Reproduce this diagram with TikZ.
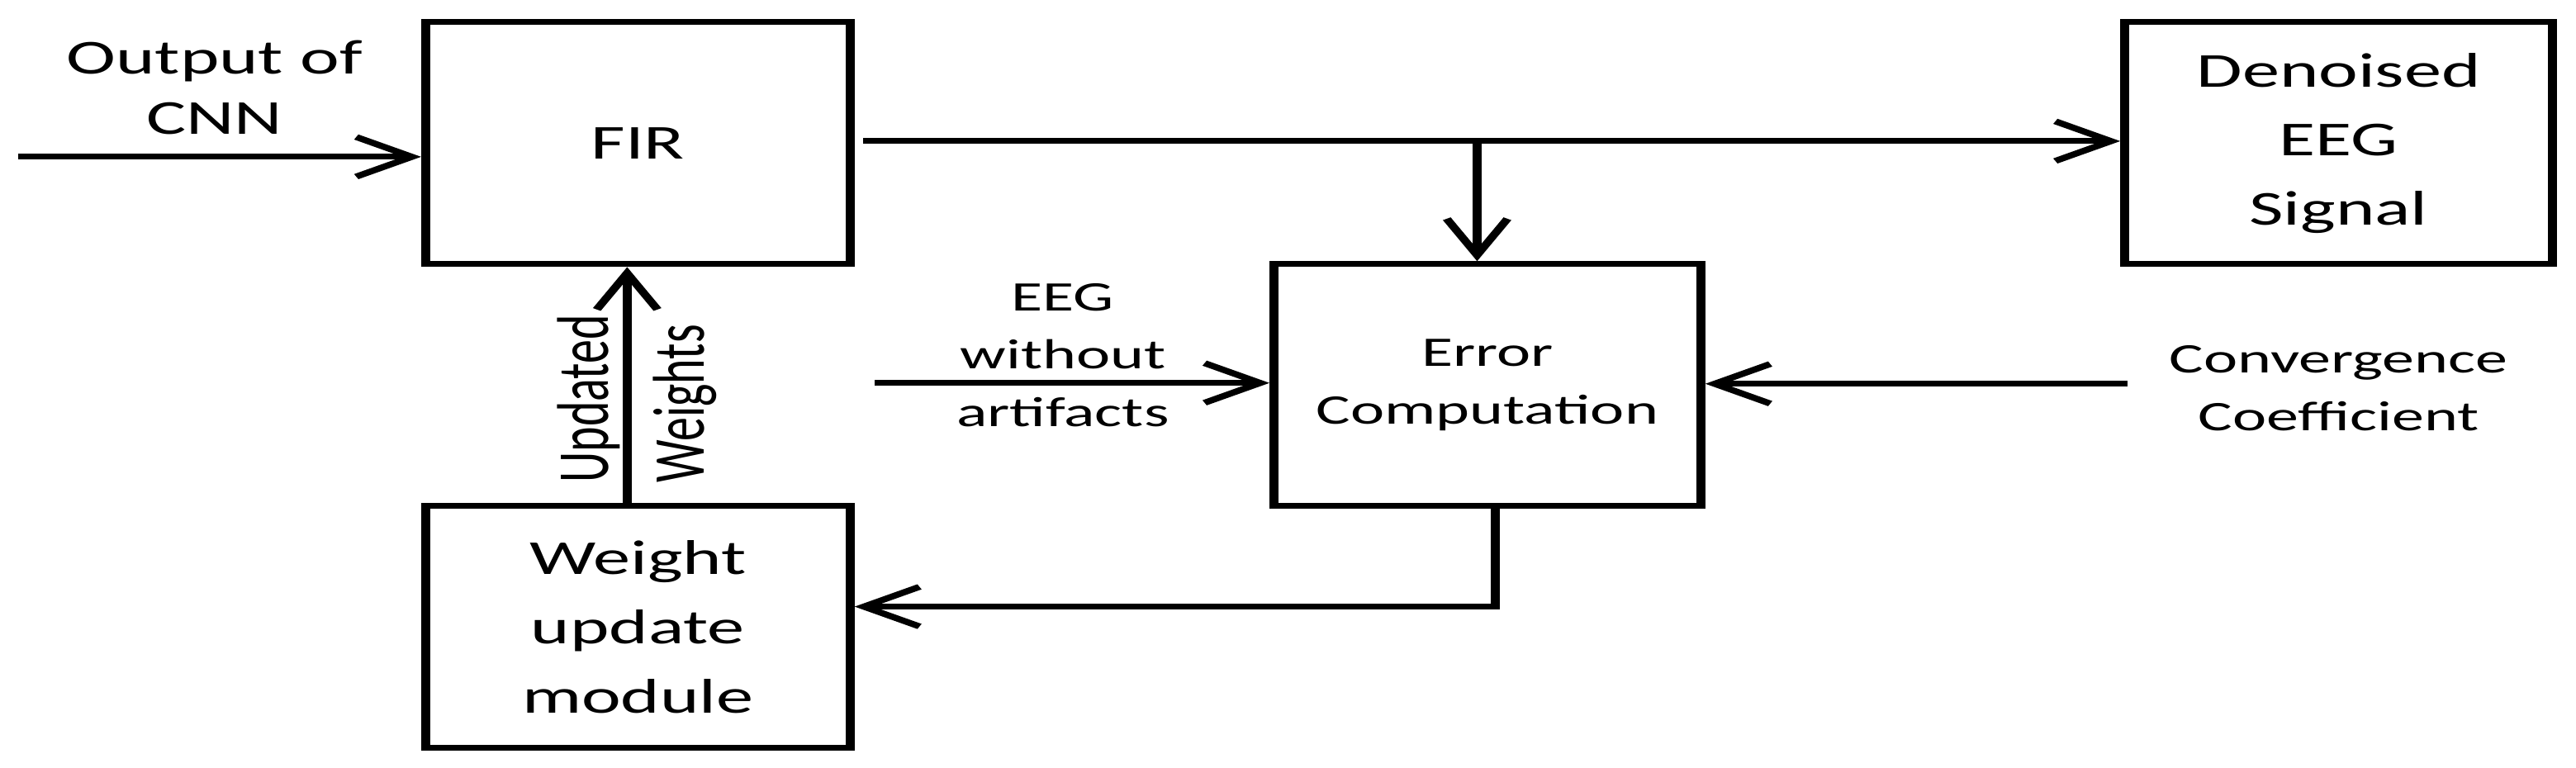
\documentclass[tikz,border=0pt]{standalone}
\usepackage{fontspec}
\newfontfamily\labfont{Carlito}
\newcommand\labbig{\labfont\fontsize{16.8}{23.8}\selectfont}
\newcommand\labmid{\labfont\fontsize{16.8}{21}\selectfont}
\newcommand\labsmall{\labfont\fontsize{14.5}{19.9}\selectfont}
\newcommand\labrot{\labfont\fontsize{16.5}{20}\selectfont}
\usetikzlibrary{arrows.meta}
\begin{document}
\begin{tikzpicture}
\useasboundingbox[fill=white] (0,0) rectangle (31.19cm,-9.29cm);
\begin{scope}[x=0.0065359cm, y=-0.01cm, transform canvas={xscale=1.53},
  blk/.style={draw, line width=2pt, minimum height=2.93cm, inner sep=0pt, align=center},
  lbl/.style={inner sep=0pt, align=center},
  conn/.style={line width=2pt, -{Straight Barb[length=0.44cm, width=0.48cm, line width=2pt]}}]
  % blocks
  \node[blk, minimum width=3.36cm, font=\labbig] (fir) at (773,173.5) {FIR};
  \node[blk, minimum width=3.386cm, font=\labbig] (den) at (2834,173.5) {Denoised\\EEG\\Signal};
  \node[blk, minimum width=3.379cm, font=\labsmall] (err) at (1802.5,466.5) {Error\\Computation};
  \node[blk, minimum width=3.36cm, font=\labbig] (wu) at (773,759.5) {Weight\\update\\module};
  % labels
  \node[lbl, font=\labmid] (outl) at (260,106) {Output of\\CNN};
  \node[lbl, font=\labsmall] (eegl) at (1288,430) {EEG\\without\\artifacts};
  \node[lbl, font=\labsmall] (convl) at (2834,470) {Convergence\\Coefficient};
  \node[lbl, font=\labrot, rotate=90] (updl) at (713,483) {Updated};
  \node[lbl, font=\labrot, rotate=90] (wtsl) at (830,489) {Weights};
  % connector end points
  \coordinate (in) at (22,190);
  \coordinate (fo) at (1046,171);
  \coordinate (tap) at (1790,171);
  \coordinate (eeg) at (1060,464);
  \coordinate (conv) at (2578,465);
  \coordinate (fb) at (1812,735);
  \coordinate (uw) at (760,0);
  % connectors
  \draw[conn] (in) -- (in -| fir.west);
  \draw[conn] (fo) -- (fo -| den.west);
  \draw[conn] (tap) -- (tap |- err.north);
  \draw[conn] (eeg) -- (eeg -| err.west);
  \draw[conn] (conv) -- (conv -| err.east);
  \draw[conn] (fb |- err.south) -- (fb) -- (fb -| wu.east);
  \draw[conn] (uw |- wu.north) -- (uw |- fir.south);
\end{scope}
\end{tikzpicture}
\end{document}
